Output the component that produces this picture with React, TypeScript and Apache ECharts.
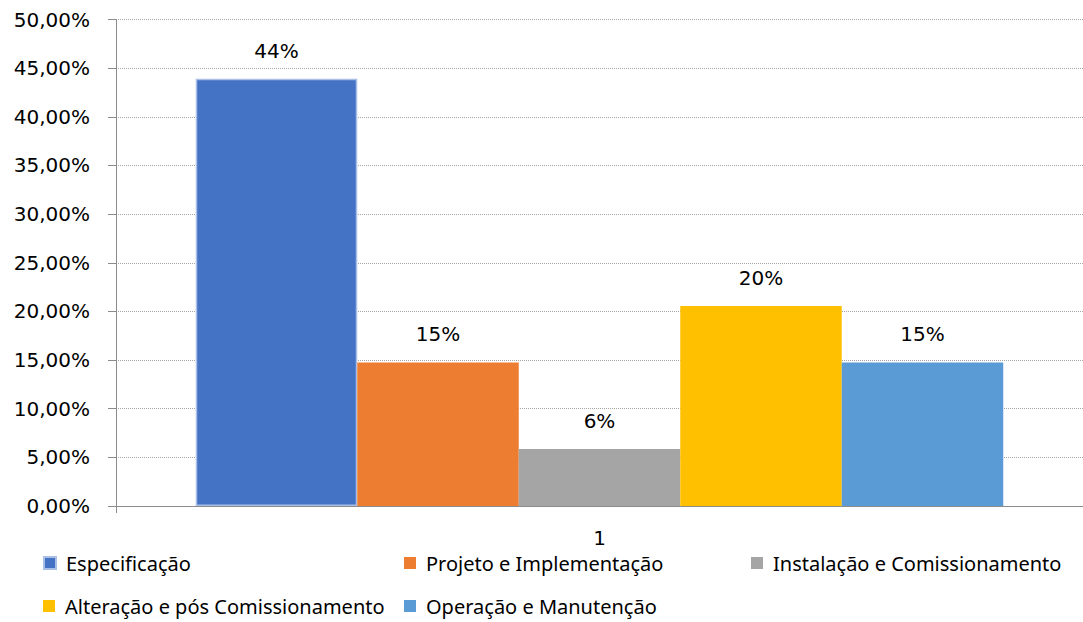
import React, { useEffect, useRef } from "react";
import * as echarts from "echarts";

const categories = ["1"];
const seriesNames = [
  "Especificação",
  "Projeto e Implementação",
  "Instalação e Comissionamento",
  "Alteração e pós Comissionamento",
  "Operação e Manutenção",
];
const seriesValues = [43.9, 14.75, 5.85, 20.55, 14.75];
const dataLabels = ["44%", "15%", "6%", "20%", "15%"];
const colors = ["#4472C4", "#ED7D31", "#A5A5A5", "#FFC000", "#5B9BD5"];
const yTicks = { min: 0, max: 50, interval: 5 };

const legendPos = [
  { left: 43, top: 553 },
  { left: 404, top: 553 },
  { left: 751, top: 553 },
  { left: 43, top: 596 },
  { left: 404, top: 596 },
];

export default function App() {
  const ref = useRef<HTMLDivElement>(null);
  useEffect(() => {
    if (!ref.current) return;
    const chart = echarts.init(ref.current, undefined, { renderer: "svg" });
    const font = "'DejaVu Sans', sans-serif";
    const legendFont = "'Noto Sans', sans-serif";
    chart.setOption({
      animation: false,
      grid: { left: 116, width: 974, top: 19.5, height: 486.5, containLabel: false },
      legend: seriesNames.map((n, i) => ({
        data: [n],
        left: legendPos[i].left,
        top: legendPos[i].top,
        icon: "rect",
        itemWidth: 12,
        itemHeight: 12,
        padding: 0,
        selectedMode: false,
        textStyle: {
          fontFamily: legendFont,
          fontSize: 20,
          color: "#000",
          lineHeight: 20,
          padding: [0, 0, 0, 5],
        },
      })),
      xAxis: {
        type: "category",
        data: categories,
        axisLine: { lineStyle: { color: "#8C8C8C", width: 1 } },
        axisTick: { show: true, length: 7, lineStyle: { color: "#8C8C8C" } },
        axisLabel: { fontFamily: font, fontSize: 20, color: "#000", margin: 22 },
      },
      yAxis: {
        type: "value",
        min: yTicks.min,
        max: yTicks.max,
        interval: yTicks.interval,
        axisLine: { show: true, lineStyle: { color: "#8C8C8C", width: 1 } },
        axisTick: { show: true, inside: false, length: 8, lineStyle: { color: "#8C8C8C" } },
        splitLine: { show: true, lineStyle: { color: "#A6A6A6", type: "dotted", width: 1 } },
        axisLabel: {
          fontFamily: font,
          fontSize: 20,
          color: "#000",
          margin: 26,
          formatter: (v: number) => v.toFixed(2).replace(".", ",") + "%",
        },
      },
      series: seriesNames.map((n, i) => ({
        name: n,
        type: "bar",
        data: [seriesValues[i]],
        barWidth: 161.5,
        barGap: "0%",
        itemStyle: {
          color: colors[i],
          borderColor: i === 0 ? "#A9BFE6" : colors[i],
          borderWidth: i === 0 ? 1.5 : 0,
        },
        label: {
          show: true,
          position: "top",
          distance: 18,
          fontFamily: font,
          fontSize: 20,
          color: "#000",
          formatter: () => dataLabels[i],
        },
      })),
    });
    return () => chart.dispose();
  }, []);
  return <div ref={ref} style={{ width: 1083, height: 622, position: "absolute", left: 0, top: 0 }} />;
}
